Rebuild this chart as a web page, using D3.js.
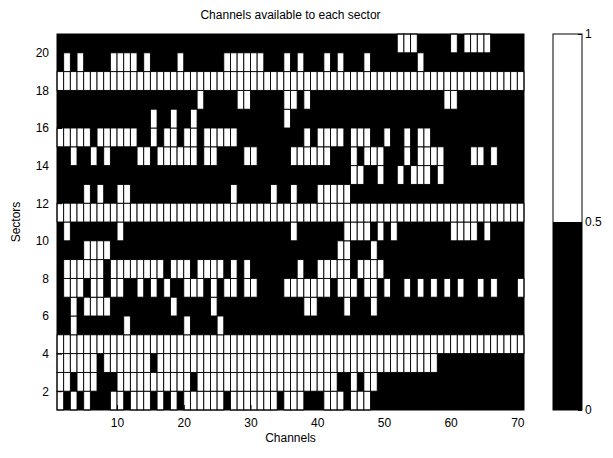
<!DOCTYPE html>
<html><head><meta charset="utf-8">
<script src="https://cdn.jsdelivr.net/npm/d3@7"></script>
<style>body{margin:0;background:#fff}text{font-family:"Liberation Sans",Arial,sans-serif}</style>
</head><body><svg id="c" width="613" height="458"></svg>
<script>
// Sectors (rows, by lower edge) and channels (columns)
const sectorIds = [1,2,3,4,5,6,7,8,9,10,11,12,13,14,15,16,17,18,19,20];
const xTicks = [10,20,30,40,50,60,70];
const yTicks = [2,4,6,8,10,12,14,16,18,20];
const cbTicks = [0,0.5,1];
const ALL = "all";
// available channels (white cells) for each sector, index 0 = sector 1
const availableChannels = [
  /* 1 */ [1,3,5,9,10,12,13,14,16,18,20,21,22,23,24,25,27,28,29,30,31,32,33,35,36,37,41,42,43,45,46,47],
  /* 2 */ [1,2,4,5,6,10,11,12,13,14,15,16,17,18,19,20,22,23,24,25,26,27,28,29,30,31,32,33,34,35,36,37,38,39,40,41,42,45,47,48],
  /* 3 */ [1,2,3,4,5,6,8,9,10,11,12,13,14,16,17,18,19,20,21,22,23,24,25,26,27,28,29,30,31,32,33,34,35,36,37,38,39,40,41,42,43,44,45,46,47,48,49,50,51,52,53,54,55,56,57],
  /* 4 */ ALL,
  /* 5 */ [3,11,20,25],
  /* 6 */ [3,5,6,7,8,18,24,38,39,44,48],
  /* 7 */ [2,3,4,6,7,9,10,13,15,17,20,21,22,24,26,27,29,30,35,36,37,38,39,40,41,43,44,45,47,48,50,53,55,57,59,61,64,66,70],
  /* 8 */ [2,3,4,5,6,7,9,10,11,12,13,14,15,16,18,19,20,22,23,24,25,27,29,37,40,41,42,43,44,46,47,48,49],
  /* 9 */ [5,6,7,8,43,44,48],
  /* 10 */ [2,10,36,44,45,46,47,49,51,60,61,62,63,65],
  /* 11 */ ALL,
  /* 12 */ [5,7,10,11,27,33,36,40,41,42,43,44],
  /* 13 */ [45,46,49,52,54,55,56,58],
  /* 14 */ [3,6,8,13,14,16,17,18,19,20,21,23,24,29,30,36,37,38,39,40,41,45,47,48,49,53,55,56,57,58,63,64,66],
  /* 15 */ [1,2,3,4,5,7,8,9,10,11,12,15,17,18,20,21,23,24,25,26,27,38,40,41,42,43,45,46,47,50,53,55,56],
  /* 16 */ [15,18,21,35],
  /* 17 */ [22,28,29,35,36,38,59,60],
  /* 18 */ ALL,
  /* 19 */ [2,4,9,10,11,12,14,19,26,27,28,29,30,31,35,37,41,43,47,55],
  /* 20 */ [52,53,54,60,62,63,64,65]
];
const nChannels = 70;

const svg = d3.select("#c");
const plot = {left:57, right:524, top:34, bottom:410};
const x = d3.scaleLinear().domain([1, nChannels + 1]).range([plot.left, plot.right]);
const y = d3.scaleLinear().domain([1, sectorIds.length + 1]).range([plot.bottom, plot.top]);

svg.append("rect").attr("x", plot.left).attr("y", plot.top)
  .attr("width", plot.right - plot.left).attr("height", plot.bottom - plot.top).attr("fill", "#000");

const cells = [];
sectorIds.forEach((s, i) => {
  const list = availableChannels[i] === ALL ? d3.range(1, nChannels + 1) : availableChannels[i];
  list.forEach(c => cells.push({s, c}));
});
svg.append("g").selectAll("rect").data(cells).join("rect")
  .attr("x", d => x(d.c)).attr("y", d => y(d.s + 1))
  .attr("width", d => x(d.c + 1) - x(d.c)).attr("height", d => y(d.s) - y(d.s + 1))
  .attr("fill", "#fff").attr("stroke", "#000").attr("stroke-width", 0.9);

const xAxis = d3.axisBottom(x).tickValues(xTicks).tickSize(-5).tickPadding(8).tickFormat(d3.format("d"));
const yAxis = d3.axisLeft(y).tickValues(yTicks).tickSize(-5).tickPadding(8).tickFormat(d3.format("d"));
const gx = svg.append("g").attr("transform", `translate(0,${plot.bottom})`).call(xAxis);
const gy = svg.append("g").attr("transform", `translate(${plot.left},0)`).call(yAxis);
[gx, gy].forEach(g => {
  g.select(".domain").remove();
  g.selectAll("line").attr("stroke", "#000");
  g.selectAll("text").attr("font-size", 12).attr("fill", "#000");
});
svg.append("rect").attr("x", plot.left).attr("y", plot.top)
  .attr("width", plot.right - plot.left).attr("height", plot.bottom - plot.top)
  .attr("fill", "none").attr("stroke", "#000").attr("stroke-width", 1);

svg.append("text").attr("x", (plot.left + plot.right) / 2).attr("y", 19)
  .attr("text-anchor", "middle").attr("font-size", 12).text("Channels available to each sector");
svg.append("text").attr("x", (plot.left + plot.right) / 2).attr("y", 442)
  .attr("text-anchor", "middle").attr("font-size", 12).text("Channels");
svg.append("text").attr("transform", `translate(20,${(plot.top + plot.bottom) / 2}) rotate(-90)`)
  .attr("text-anchor", "middle").attr("font-size", 12).text("Sectors");

const cb = {left:553, right:582};
const yc = d3.scaleLinear().domain([0, 1]).range([plot.bottom, plot.top]);
svg.append("rect").attr("x", cb.left).attr("y", yc(0.5)).attr("width", cb.right - cb.left)
  .attr("height", yc(0) - yc(0.5)).attr("fill", "#000");
svg.append("rect").attr("x", cb.left).attr("y", yc(1)).attr("width", cb.right - cb.left)
  .attr("height", yc(0.5) - yc(1)).attr("fill", "#fff");
const cAxis = d3.axisRight(yc).tickValues(cbTicks).tickSize(-4).tickPadding(3).tickFormat(d => d === 0.5 ? "0.5" : d3.format("d")(d));
const gc = svg.append("g").attr("transform", `translate(${cb.right},0)`).call(cAxis);
gc.select(".domain").remove();
gc.selectAll("line").attr("stroke", "#000");
gc.selectAll("text").attr("font-size", 12).attr("fill", "#000");
svg.append("rect").attr("x", cb.left).attr("y", plot.top).attr("width", cb.right - cb.left)
  .attr("height", plot.bottom - plot.top).attr("fill", "none").attr("stroke", "#000");
</script></body></html>
